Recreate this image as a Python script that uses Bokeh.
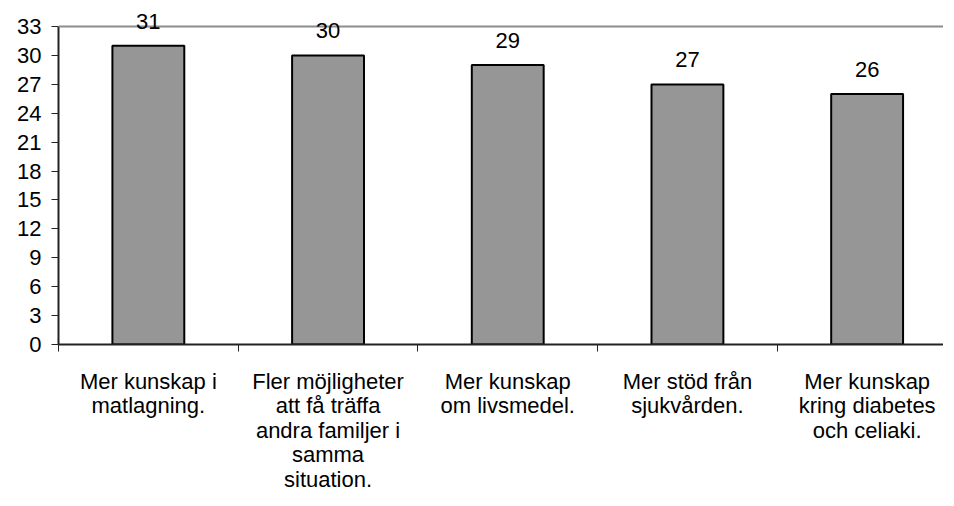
from bokeh.plotting import figure
from bokeh.models import (ColumnDataSource, Range1d, FixedTicker, LinearAxis,
                          LabelSet, Span)
from bokeh.core.properties import value
from bokeh.embed import file_html
from bokeh.resources import INLINE

categories = [
    "Mer kunskap i\nmatlagning.",
    "Fler möjligheter\natt få träffa\nandra familjer i\nsamma\nsituation.",
    "Mer kunskap\nom livsmedel.",
    "Mer stöd från\nsjukvården.",
    "Mer kunskap\nkring diabetes\noch celiaki.",
]
values = [31, 30, 29, 27, 26]
y_ticks = [0, 3, 6, 9, 12, 15, 18, 21, 24, 27, 30, 33]
y_max = 33

FONT = "Liberation Sans"
FS = "22px"

centers = [i + 0.5 for i in range(len(categories))]
bounds = [float(i) for i in range(len(categories) + 1)]

src = ColumnDataSource(dict(x=centers, top=values,
                            lab=[str(v) for v in values]))

# range extends a little above the top tick so value labels are not clipped
p = figure(frame_width=885, frame_height=342,
           x_range=Range1d(0, 4.925), y_range=Range1d(0, 35.5),
           output_backend="svg", toolbar_location=None,
           x_axis_type=None, y_axis_type=None,
           min_border_left=58, min_border_top=2, min_border_right=0,
           min_border_bottom=0)
p.outline_line_color = None
p.background_fill_color = "white"
p.border_fill_color = "white"

# y axis
yax = LinearAxis(ticker=FixedTicker(ticks=y_ticks), bounds=(0, y_max))
yax.axis_line_color = "#222222"
yax.axis_line_width = 2
yax.major_tick_out = 7
yax.major_tick_in = 0
yax.major_tick_line_color = "#222222"
yax.minor_tick_line_color = None
yax.major_label_standoff = 10
yax.major_label_text_font = FONT
yax.major_label_text_font_size = FS
yax.major_label_text_color = "black"
p.add_layout(yax, "left")

# x axis: labels at centers, ticks at boundaries (minor ticks)
xax = LinearAxis(ticker=FixedTicker(ticks=centers, minor_ticks=bounds))
xax.major_label_overrides = {c: lab for c, lab in zip(centers, categories)}
xax.axis_line_color = "#222222"
xax.axis_line_width = 2
xax.major_tick_line_color = None
xax.major_tick_out = 0
xax.major_tick_in = 0
xax.minor_tick_line_color = "#222222"
xax.minor_tick_out = 7
xax.minor_tick_in = 0
xax.major_label_standoff = 17
xax.major_label_text_font = FONT
xax.major_label_text_font_size = FS
xax.major_label_text_color = "black"
xax.major_label_text_line_height = 0.98
p.add_layout(xax, "below")

p.xgrid.visible = False
p.ygrid.ticker = FixedTicker(ticks=[t for t in y_ticks if 0 < t < y_max])
p.ygrid.grid_line_color = "black"
p.ygrid.grid_line_width = 1

p.add_layout(Span(location=y_max, dimension="width", line_color="#8c8c8c",
                  line_width=2))

p.vbar(x="x", top="top", bottom=0, width=0.4, source=src,
       fill_color="#969696", line_color="black", line_width=2)

p.add_layout(LabelSet(x="x", y="top", text="lab", source=src,
                      y_offset=17, text_align="center",
                      text_baseline="alphabetic", text_font=value(FONT),
                      text_font_size=FS, text_color="black"))

open("out.html", "w").write(file_html(p, INLINE))
